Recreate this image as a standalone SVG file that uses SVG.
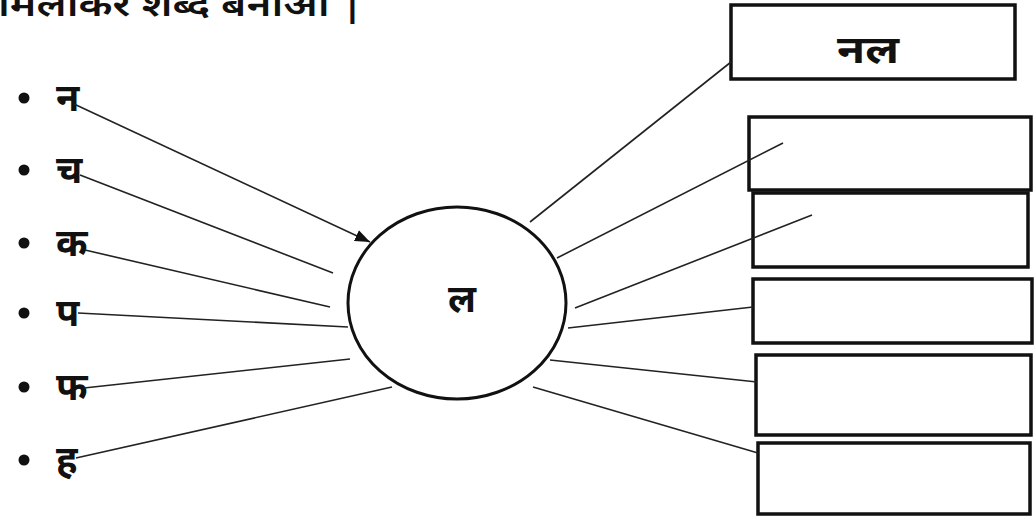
<svg xmlns="http://www.w3.org/2000/svg" width="1036" height="518" viewBox="0 0 1036 518">
<style>
.t{font-family:"Noto Sans","Liberation Sans",sans-serif;fill:#111}
.lt{font-size:38px;font-weight:bold}
.ln{stroke:#222;stroke-width:1.6;fill:none}
.box{fill:none;stroke:#111;stroke-width:3.5}
</style>
<defs>
<marker id="ah" viewBox="0 0 10 10" refX="10" refY="5" markerWidth="15" markerHeight="12" orient="auto" markerUnits="userSpaceOnUse" preserveAspectRatio="none">
<path d="M0,0 L10,5 L0,10 z" fill="#111"/>
</marker>
</defs>
<rect width="1036" height="518" fill="#fff"/>
<text class="t" x="-2" y="16" font-size="33" font-weight="600" textLength="366" lengthAdjust="spacingAndGlyphs">मिलाकर शब्द बनाओ |</text>

<g id="center">
<ellipse cx="457" cy="303" rx="109" ry="96" fill="#fff" stroke="#111" stroke-width="3"/>
<text class="t lt" x="462" y="312" text-anchor="middle">ल</text>
</g>

<g id="box1"><rect class="box" x="731" y="5" width="284" height="74"/><text class="t lt" x="868" y="63" text-anchor="middle" textLength="62" lengthAdjust="spacingAndGlyphs">नल</text></g>
<g id="box2"><rect class="box" x="749" y="117" width="282" height="73"/></g>
<g id="box3"><rect class="box" x="753" y="193" width="275" height="74"/></g>
<g id="box4"><rect class="box" x="753" y="279" width="279" height="64"/></g>
<g id="box5"><rect class="box" x="756" y="355" width="275" height="80"/></g>
<g id="box6"><rect class="box" x="758" y="443" width="272" height="71"/></g>

<g id="item-na"><circle cx="24" cy="98" r="5.5" fill="#111"/><text class="t lt" x="56" y="111">न</text></g>
<g id="item-cha"><circle cx="24" cy="170" r="5.5" fill="#111"/><text class="t lt" x="56" y="183">च</text></g>
<g id="item-ka"><circle cx="24" cy="243" r="5.5" fill="#111"/><text class="t lt" x="56" y="256">क</text></g>
<g id="item-pa"><circle cx="24" cy="313" r="5.5" fill="#111"/><text class="t lt" x="56" y="326">प</text></g>
<g id="item-pha"><circle cx="24" cy="387" r="5.5" fill="#111"/><text class="t lt" x="56" y="400">फ</text></g>
<g id="item-ha"><circle cx="24" cy="460" r="5.5" fill="#111"/><text class="t lt" x="56" y="473">ह</text></g>

<g id="connectors">
<line class="ln" x1="74" y1="104" x2="370" y2="242" marker-end="url(#ah)"/>
<line class="ln" x1="80" y1="175" x2="333" y2="273"/>
<line class="ln" x1="85" y1="250" x2="330" y2="307"/>
<line class="ln" x1="78" y1="313" x2="348" y2="327"/>
<line class="ln" x1="84" y1="388" x2="350" y2="359"/>
<line class="ln" x1="76" y1="458" x2="392" y2="387"/>
<line class="ln" x1="530" y1="222" x2="731" y2="62"/>
<line class="ln" x1="557" y1="258" x2="783" y2="143"/>
<line class="ln" x1="575" y1="308" x2="812" y2="215"/>
<line class="ln" x1="568" y1="328" x2="753" y2="307"/>
<line class="ln" x1="550" y1="360" x2="757" y2="382"/>
<line class="ln" x1="533" y1="387" x2="758" y2="453"/>
</g>
</svg>
